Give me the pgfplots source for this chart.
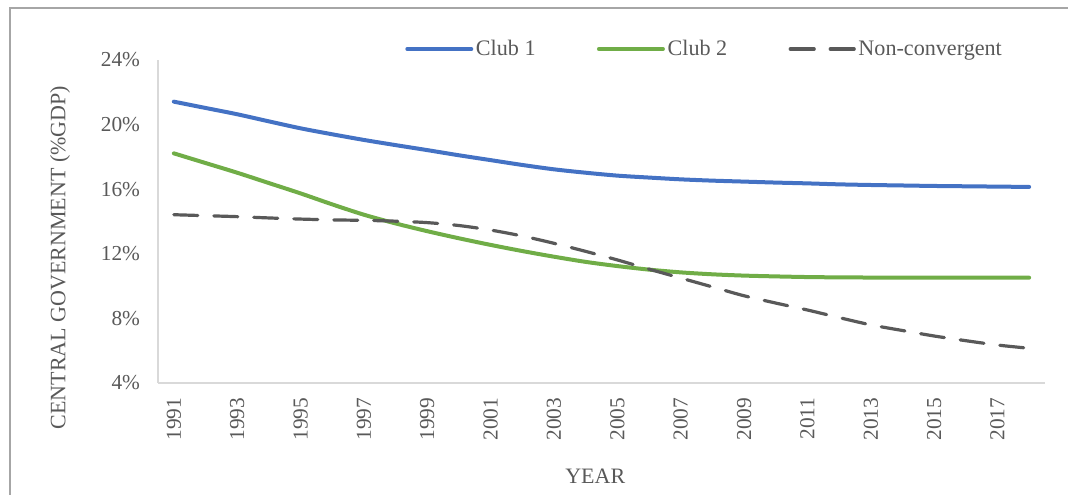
\documentclass[border=0pt]{standalone}
\usepackage{pgfplots}
\pgfplotsset{compat=1.18}
\usepackage{fontspec}
\setmainfont{Liberation Serif}
\definecolor{cblue}{HTML}{4472C4}
\definecolor{cgreen}{HTML}{70AD47}
\definecolor{cdash}{HTML}{595959}
\definecolor{ctext}{HTML}{595959}
\definecolor{caxis}{HTML}{D9D9D9}
\definecolor{cframe}{HTML}{A6A6A6}
\begin{document}
\begin{tikzpicture}
\useasboundingbox (-118.5pt,-84pt) rectangle (682.5pt,287.25pt);
\draw[cframe, line width=0.9pt] (-111pt,-84pt) -- (-111pt,281.25pt) -- (682.5pt,281.25pt);
\begin{axis}[
  scale only axis,
  width=665.25pt, height=242.25pt,
  xmin=1990.5, xmax=2018.5, ymin=4, ymax=24,
  axis x line*=bottom, axis y line*=left,
  axis line style={caxis, line width=1pt, -},
  tick style={draw=none},
  ytick={4,8,...,24},
  yticklabel={\pgfmathprintnumber{\tick}\%},
  xtick={1991,1993,...,2017},
  /pgf/number format/1000 sep={},
  /pgf/number format/assume math mode=true,
  ticklabel style={font=\fontsize{16}{19}\selectfont, text=ctext},
  xticklabel style={rotate=90, anchor=east},
  yticklabel style={anchor=east},
  yticklabel shift=10pt,
  xticklabel shift=7.5pt,
  xlabel={YEAR},
  ylabel={CENTRAL GOVERNMENT (\%GDP)},
  every axis x label/.style={at={(axis description cs:0.493,-0.2894)}, anchor=center,
    font=\fontsize{16.5}{19}\selectfont, text=ctext},
  every axis y label/.style={at={(axis description cs:-0.1105,0.3886)}, anchor=center, rotate=90,
    font=\fontsize{16.5}{19}\selectfont, text=ctext},
  legend columns=3,
  legend style={draw=none, fill=none, at={(rel axis cs:0.2785,1.034)}, anchor=west,
    inner sep=0pt, font=\fontsize{16.6}{19}\selectfont, text=ctext,
    /tikz/every even column/.append style={column sep=44pt},
    nodes={inner sep=2pt}},
  legend image code/.code={\draw[#1] (0pt,0pt) -- (48pt,0pt);},
]
\addplot[cblue, line width=3pt, line cap=round, smooth] coordinates {
(1991,21.42) (1992,21.03) (1993,20.64) (1994,20.2) (1995,19.77) (1996,19.4)
(1997,19.05) (1998,18.73) (1999,18.42) (2000,18.1) (2001,17.8) (2002,17.5)
(2003,17.23) (2004,17.02) (2005,16.84) (2006,16.72) (2007,16.61) (2008,16.53)
(2009,16.47) (2010,16.41) (2011,16.36) (2012,16.3) (2013,16.26) (2014,16.23)
(2015,16.2) (2016,16.18) (2017,16.16) (2018,16.14)};
\addlegendentry{Club 1}
\addplot[cgreen, line width=3pt, line cap=round, smooth] coordinates {
(1991,18.22) (1992,17.62) (1993,17.02) (1994,16.38) (1995,15.74) (1996,15.06)
(1997,14.42) (1998,13.88) (1999,13.4) (2000,12.96) (2001,12.55) (2002,12.17)
(2003,11.82) (2004,11.5) (2005,11.24) (2006,11.02) (2007,10.85) (2008,10.73)
(2009,10.65) (2010,10.6) (2011,10.56) (2012,10.54) (2013,10.53) (2014,10.52)
(2015,10.52) (2016,10.52) (2017,10.52) (2018,10.52)};
\addlegendentry{Club 2}
\addplot[cdash, line width=2.4pt, line cap=round, dash pattern=on 18pt off 12pt, smooth] coordinates {
(1991,14.42) (1992,14.36) (1993,14.3) (1994,14.22) (1995,14.15) (1996,14.1)
(1997,14.07) (1998,14.02) (1999,13.93) (2000,13.75) (2001,13.47) (2002,13.1)
(2003,12.65) (2004,12.15) (2005,11.62) (2006,11.05) (2007,10.5) (2008,9.95)
(2009,9.4) (2010,8.95) (2011,8.52) (2012,8.05) (2013,7.6) (2014,7.25)
(2015,6.91) (2016,6.62) (2017,6.35) (2018,6.15)};
\addlegendentry{Non-convergent}
\end{axis}
\end{tikzpicture}
\end{document}
